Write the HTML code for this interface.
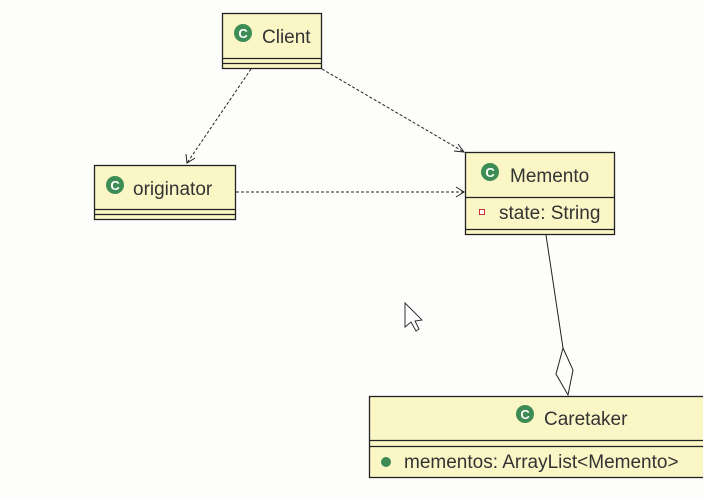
<!DOCTYPE html>
<html><head><meta charset="utf-8"><style>
html,body{margin:0;padding:0;background:#fdfdfb;}
svg{display:block;font-family:"Liberation Sans","DejaVu Sans",sans-serif;}
</style></head><body>
<svg width="703" height="500" viewBox="0 0 703 500" xmlns="http://www.w3.org/2000/svg">
<defs>
<g id="cicon"><circle r="9" fill="#3d8c55"/><text x="0" y="5" font-size="13" font-weight="bold" fill="#fff" text-anchor="middle">C</text></g>
</defs>
<rect width="703" height="500" fill="#fdfdfb"/>
<g stroke="#222" stroke-width="1.3">
<!-- Client -->
<rect x="222.5" y="13.5" width="99" height="55" fill="#faf6c6"/>
<line x1="222" y1="58.5" x2="322" y2="58.5"/>
<line x1="222" y1="63.5" x2="322" y2="63.5"/>
<!-- originator -->
<rect x="94.5" y="165.5" width="141" height="54" fill="#faf6c6"/>
<line x1="94" y1="209.5" x2="236" y2="209.5"/>
<line x1="94" y1="214.5" x2="236" y2="214.5"/>
<!-- Memento -->
<rect x="465.5" y="152.5" width="149" height="82" fill="#faf6c6"/>
<line x1="465" y1="197.5" x2="615" y2="197.5"/>
<line x1="465" y1="229.5" x2="615" y2="229.5"/>
<!-- Caretaker -->
<rect x="369.5" y="396.5" width="340" height="81" fill="#faf6c6"/>
<line x1="369" y1="440.5" x2="710" y2="440.5"/>
<line x1="369" y1="446.5" x2="710" y2="446.5"/>
</g>
<use href="#cicon" x="243" y="33"/>
<text x="262" y="43" font-size="19" fill="#333">Client</text>
<use href="#cicon" x="115" y="185"/>
<text x="133" y="195" font-size="19" fill="#333">originator</text>
<use href="#cicon" x="490" y="172"/>
<text x="510" y="182" font-size="19" fill="#333">Memento</text>
<rect x="479.5" y="209.5" width="5" height="5" fill="#fff" stroke="#c33"/>
<text x="499" y="219" font-size="19" fill="#333">state: String</text>
<use href="#cicon" x="525" y="414"/>
<text x="544" y="425" font-size="19" fill="#333">Caretaker</text>
<circle cx="386" cy="462" r="5" fill="#3d8c55"/>
<text x="404" y="468" font-size="19" fill="#333">mementos: ArrayList&lt;Memento&gt;</text>
<!-- dependencies -->
<g stroke="#222" fill="none" stroke-width="1">
<line x1="251" y1="69" x2="187" y2="163" stroke-dasharray="3,2"/>
<polyline points="186,154 187,163 195,158"/>
<line x1="322" y1="69" x2="464" y2="152" stroke-dasharray="3,2"/>
<polyline points="454,151 464,152 458,144"/>
<line x1="236" y1="192" x2="464" y2="192" stroke-dasharray="3,2"/>
<polyline points="456,187 464,192 456,197"/>
<line x1="546" y1="235" x2="563" y2="348"/>
<polygon points="563,348 573,370 568,395 556,374" fill="#fdfdfb"/>
</g>
<polygon points="405,303 405,327 411,322 416,331 419,329 415,321 422,320" fill="#fff" stroke="#333"/>
</svg>
</body></html>
